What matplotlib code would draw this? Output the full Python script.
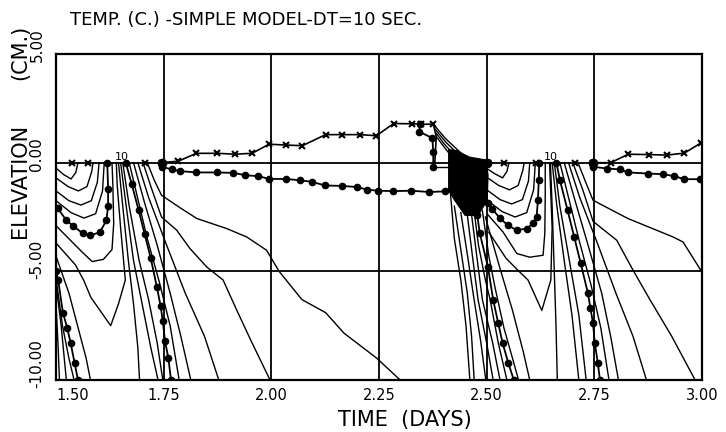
import matplotlib
matplotlib.use("Agg")
import matplotlib.pyplot as plt
import matplotlib.transforms as mtrans

plt.rcParams['font.family'] = ['Liberation Sans Narrow', 'DejaVu Sans']

################################################################################
# Data: isotherms, (time in days, elevation in cm)
################################################################################
X_TICKS = [1.50, 1.75, 2.00, 2.25, 2.50, 2.75, 3.00]
X_LABELS = ['1.50', '1.75', '2.00', '2.25', '2.50', '2.75', '3.00']
Y_TICKS = [5.0, 0.0, -5.0, -10.0]
Y_LABELS = ['5.00', '0.00', '-5.00', '-10.00']

# surface line with x markers (above zero)
x_line = [(1.746, 0.0), (1.784, 0.07), (1.826, 0.43), (1.875, 0.43), (1.916, 0.39),
          (1.955, 0.43), (1.995, 0.85), (2.034, 0.81), (2.072, 0.78), (2.126, 1.29),
          (2.165, 1.29), (2.205, 1.29), (2.244, 1.24), (2.284, 1.80), (2.326, 1.79),
          (2.347, 1.77), (2.376, 1.77)]
x_drop = [(2.376, 1.77), (2.383, 1.2), (2.381, 0.5), (2.379, -0.2)]
x_line_r = [(2.747, 0.0), (2.788, 0.0), (2.829, 0.39), (2.878, 0.37), (2.919, 0.35),
            (2.959, 0.44), (2.997, 0.9)]
x_surf = [1.537, 1.574, 1.707, 2.503, 2.540, 2.615, 2.706]

# dotted line just below surface
d_line = [(1.746, -0.19), (1.769, -0.31), (1.788, -0.39), (1.826, -0.45), (1.875, -0.45),
          (1.912, -0.47), (1.940, -0.58), (1.970, -0.62), (1.995, -0.75), (2.034, -0.75),
          (2.066, -0.81), (2.094, -0.88), (2.125, -1.05), (2.164, -1.07), (2.199, -1.12),
          (2.222, -1.24), (2.248, -1.29), (2.283, -1.31), (2.324, -1.29), (2.367, -1.35),
          (2.404, -1.32)]
d_loop = [(2.345, 1.77), (2.344, 1.42), (2.374, 1.13), (2.376, 0.5), (2.376, -0.2)]
d_line_r = [(2.747, -0.19), (2.780, -0.27), (2.809, -0.31), (2.829, -0.45), (2.874, -0.50),
            (2.909, -0.53), (2.936, -0.62), (2.959, -0.76), (2.995, -0.76)]
surf_dots = [1.746, 2.500, 2.747]
flat_seg = [(2.375, -0.2), (2.415, -0.2)]

# first day cycle
u1 = [(1.500, -0.25), (1.518, -0.55), (1.535, -0.75), (1.546, -0.45), (1.551, 0.0)]
u2 = [(1.500, -0.70), (1.528, -1.10), (1.552, -1.30), (1.572, -1.10), (1.583, -0.40), (1.586, 0.0)]
u3 = [(1.500, -1.30), (1.530, -1.75), (1.558, -1.95), (1.582, -1.75), (1.596, -0.90), (1.600, 0.0)]
u4 = [(1.500, -1.75), (1.535, -2.30), (1.565, -2.55), (1.592, -2.35), (1.608, -1.30), (1.612, 0.0)]
u_dot = [(1.504, -2.10), (1.524, -2.65), (1.539, -2.90), (1.562, -3.25), (1.579, -3.35),
         (1.602, -3.20), (1.617, -2.65), (1.621, -2.00), (1.621, -1.20), (1.619, 0.0)]
u5 = [(1.500, -2.90), (1.530, -3.50), (1.560, -4.10), (1.584, -4.55), (1.610, -4.45),
      (1.630, -4.00), (1.634, -2.80), (1.632, -1.00), (1.630, 0.0)]
v6 = [(1.500, -3.70), (1.545, -4.70), (1.564, -5.40), (1.581, -6.20), (1.627, -7.50),
      (1.645, -6.5), (1.661, -5.40), (1.650, -3.0), (1.642, -1.0), (1.640, 0.0)]
a1 = [(1.500, -6.5), (1.505, -8.5), (1.508, -10.0)]
a2 = [(1.500, -5.6), (1.512, -7.5), (1.524, -10.0)]
a3 = [(1.500, -5.3), (1.515, -7.5), (1.530, -9.0), (1.542, -10.0)]
a_dot = [(1.500, -5.0), (1.505, -5.4), (1.516, -6.9), (1.526, -7.6), (1.534, -8.3),
         (1.543, -9.2), (1.551, -10.0)]
a4 = [(1.500, -4.3), (1.530, -6.0), (1.550, -7.5), (1.570, -9.0), (1.580, -10.0)]
f1 = [(1.645, 0.0), (1.655, -2.0), (1.668, -4.5), (1.680, -6.5), (1.690, -8.5), (1.694, -10.0)]
f2 = [(1.650, 0.0), (1.663, -2.0), (1.680, -4.5), (1.700, -6.5), (1.720, -8.5), (1.737, -10.0)]
f3 = [(1.655, 0.0), (1.670, -2.0), (1.693, -4.5), (1.715, -6.3), (1.735, -8.3), (1.748, -10.0)]
f_dot = [(1.662, 0.0), (1.676, -1.0), (1.692, -2.2), (1.706, -3.3), (1.720, -4.4), (1.734, -5.7),
         (1.743, -6.6), (1.748, -7.3), (1.753, -8.2), (1.761, -9.0), (1.767, -10.0)]
f4 = [(1.670, 0.0), (1.688, -1.5), (1.712, -3.5), (1.740, -5.5), (1.765, -7.5), (1.786, -10.0)]
f5 = [(1.680, 0.0), (1.705, -1.8), (1.735, -3.8), (1.765, -6.0), (1.790, -8.0), (1.813, -10.0)]
f6 = [(1.690, 0.0), (1.715, -1.6), (1.755, -3.7), (1.800, -6.0), (1.845, -8.0), (1.878, -10.0)]
l2 = [(1.702, 0.0), (1.722, -1.2), (1.745, -2.5), (1.780, -3.10), (1.811, -3.95), (1.850, -4.8),
      (1.888, -5.4), (1.920, -6.8), (1.953, -8.2), (1.997, -10.0)]
l1 = [(1.712, 0.0), (1.728, -0.8), (1.745, -1.50), (1.790, -2.10), (1.827, -2.57), (1.896, -3.03),
      (1.943, -3.42), (1.989, -4.03), (2.018, -5.0), (2.071, -6.3), (2.126, -6.9), (2.169, -7.85),
      (2.212, -8.5), (2.245, -9.0), (2.299, -10.0)]

# freezing front mass just before 2.50, and the lines running into it
dense = [(2.412, 0.60), (2.430, 0.55), (2.460, 0.25), (2.498, 0.12), (2.503, -0.58),
         (2.501, -1.73), (2.480, -2.42), (2.450, -2.42), (2.426, -1.73), (2.412, -1.27)]
diag1 = [(2.376, 1.77), (2.405, 1.10), (2.440, 0.45)]
diag2 = [(2.380, 1.55), (2.405, 0.95), (2.428, 0.50)]
diag3 = [(2.383, 1.35), (2.402, 0.85), (2.418, 0.50)]
diag4 = [(2.385, 1.15), (2.400, 0.75), (2.412, 0.45)]
dn0 = [(2.415, -1.2), (2.425, -3.5), (2.440, -5.4), (2.452, -7.5), (2.461, -10.0)]
dn1 = [(2.425, -2.0), (2.440, -4.0), (2.455, -6.0), (2.465, -8.0), (2.471, -10.0)]
dn2 = [(2.440, -2.3), (2.455, -4.2), (2.470, -6.2), (2.486, -8.2), (2.498, -10.0)]
dn3 = [(2.455, -2.4), (2.467, -4.3), (2.480, -6.3), (2.500, -8.3), (2.515, -10.0)]
dn4 = [(2.465, -2.4), (2.477, -4.3), (2.490, -6.3), (2.514, -8.3), (2.531, -10.0)]
dn5 = [(2.472, -2.4), (2.481, -3.8), (2.497, -5.4), (2.508, -6.3), (2.527, -8.3), (2.547, -10.0)]
dn_dot = [(2.478, -2.4), (2.484, -3.25), (2.503, -4.8), (2.515, -6.3), (2.527, -7.4),
          (2.537, -8.3), (2.550, -9.2), (2.563, -10.0)]
dn6 = [(2.490, -2.2), (2.505, -4.3), (2.520, -5.8), (2.540, -7.6), (2.560, -9.0), (2.574, -10.0)]
dn7 = [(2.497, -2.5), (2.530, -4.8), (2.560, -6.8), (2.585, -8.7), (2.600, -10.0)]

# second day cycle
ru1 = [(2.495, -0.20), (2.518, -0.50), (2.537, -0.70), (2.547, -0.40), (2.552, 0.0)]
ru2 = [(2.495, -0.60), (2.528, -1.05), (2.553, -1.25), (2.573, -1.05), (2.584, -0.35), (2.587, 0.0)]
ru3 = [(2.497, -1.20), (2.531, -1.70), (2.558, -1.90), (2.583, -1.70), (2.597, -0.85), (2.600, 0.0)]
ru4 = [(2.499, -1.70), (2.536, -2.25), (2.566, -2.50), (2.593, -2.30), (2.609, -1.25), (2.613, 0.0)]
ru_dot = [(2.503, -1.85), (2.512, -2.11), (2.531, -2.56), (2.549, -2.88), (2.570, -3.11),
          (2.593, -3.03), (2.608, -2.79), (2.616, -2.50), (2.619, -1.73), (2.621, -0.8), (2.622, 0.0)]
ru5 = [(2.503, -2.4), (2.538, -3.19), (2.570, -4.18), (2.600, -4.35), (2.631, -4.26),
       (2.635, -3.25), (2.636, -1.5), (2.636, 0.0)]
rv6 = [(2.505, -3.2), (2.545, -4.4), (2.575, -5.0), (2.596, -5.4), (2.628, -6.8), (2.649, -5.4),
       (2.652, -3.0), (2.648, -1.0), (2.646, 0.0)]
rf1 = [(2.648, 0.0), (2.652, -2.0), (2.657, -5.0), (2.661, -7.5), (2.664, -10.0)]
rf2 = [(2.652, 0.0), (2.663, -2.0), (2.680, -4.5), (2.698, -7.0), (2.714, -10.0)]
rf3 = [(2.657, 0.0), (2.670, -2.0), (2.692, -4.5), (2.714, -7.0), (2.731, -10.0)]
rf_dot = [(2.662, 0.0), (2.670, -0.8), (2.688, -2.2), (2.703, -3.4), (2.718, -4.6), (2.735, -6.0),
          (2.741, -6.7), (2.747, -7.4), (2.751, -8.3), (2.758, -9.2), (2.763, -10.0)]
rf4 = [(2.670, 0.0), (2.690, -1.6), (2.715, -3.6), (2.742, -5.6), (2.765, -7.6), (2.784, -10.0)]
rf5 = [(2.680, 0.0), (2.706, -1.8), (2.737, -3.9), (2.767, -6.0), (2.788, -8.0), (2.806, -10.0)]
rf6 = [(2.690, 0.0), (2.716, -1.6), (2.757, -3.7), (2.800, -6.0), (2.840, -8.0), (2.871, -10.0)]
rl2 = [(2.700, 0.0), (2.724, -1.3), (2.747, -2.70), (2.802, -3.57), (2.840, -4.95), (2.879, -6.3),
       (2.930, -8.0), (2.984, -10.0)]
rl1 = [(2.712, 0.0), (2.730, -0.9), (2.747, -1.73), (2.828, -2.57), (2.933, -3.42), (2.956, -3.65),
       (2.995, -4.88), (3.000, -5.0)]

plain_lines = [u1, u2, u3, u4, u5, v6, a1, a2, a3, a4, f1, f2, f3, f4, f5, f6, l1, l2,
               diag1, diag2, diag3, diag4,
               dn0, dn1, dn2, dn3, dn4, dn5, dn6, dn7,
               ru1, ru2, ru3, ru4, ru5, rv6, rf1, rf2, rf3, rf4, rf5, rf6, rl1, rl2, flat_seg]
dot_lines = [d_line, d_loop, d_line_r, u_dot, a_dot, f_dot, dn_dot, ru_dot, rf_dot]
x_lines = [x_line, x_line_r]

################################################################################
# Figure
################################################################################
fig = plt.figure(figsize=(7.26, 4.32), dpi=100)
ax = fig.add_axes([56/726, 1-380/432, 646/726, 326/432])
ax.set_xlim(1.5, 3.0)
ax.set_ylim(-10.0, 5.0)

for xv in X_TICKS[1:-1]:
    ax.axvline(xv, color='black', lw=1.3, zorder=1)
for yv in [0.0, -5.0]:
    ax.axhline(yv, color='black', lw=1.3, zorder=1)

for ln in plain_lines:
    t, z = zip(*ln)
    ax.plot(t, z, color='black', lw=1.0, zorder=2)
for ln in dot_lines:
    t, z = zip(*ln)
    ax.plot(t, z, color='black', lw=1.3, marker='o', ms=4.5, zorder=3)
for ln in x_lines:
    t, z = zip(*ln)
    ax.plot(t, z, color='black', lw=1.2, marker='x', ms=4, mew=1.5, zorder=3)
t, z = zip(*x_drop)
ax.plot(t, z, color='black', lw=1.2, zorder=3)
ax.plot(x_surf, [0.0]*len(x_surf), ls='none', color='black', marker='x', ms=4, mew=1.5, zorder=3)
ax.plot(surf_dots, [0.0]*len(surf_dots), ls='none', color='black', marker='o', ms=6, zorder=3)

t, z = zip(*dense)
ax.fill(t, z, color='black', lw=1.0, zorder=3)

ax.text(1.654, 0.05, '10', fontsize=8, ha='center', va='bottom')
ax.text(2.650, 0.05, '10', fontsize=8, ha='center', va='bottom')

for sp in ax.spines.values():
    sp.set_linewidth(1.6)
ax.set_xticks(X_TICKS)
ax.set_xticklabels([])
ax.set_yticks(Y_TICKS)
ax.set_yticklabels([])
ax.tick_params(length=0)

# plotter style tick labels
xoff = mtrans.ScaledTranslation(0, -8/100, fig.dpi_scale_trans)
for xv, lab in zip(X_TICKS, X_LABELS):
    ha = 'left' if xv == X_TICKS[0] else 'center'
    ax.text(xv, 0, lab, transform=ax.get_xaxis_transform() + xoff,
            ha=ha, va='top', fontsize=10.5)
yoff = mtrans.ScaledTranslation(0, -8/100, fig.dpi_scale_trans)
for yv, lab in zip(Y_TICKS, Y_LABELS):
    ax.text(-19/646, yv, lab, transform=ax.get_yaxis_transform() + yoff, rotation=90,
            ha='center', va='bottom', fontsize=11)

fig.text(405/726, 1-420/432, 'TIME  (DAYS)', ha='center', va='center', fontsize=15)
fig.text(20/726, 1-181/432, 'ELEVATION', rotation=90, ha='center', va='center', fontsize=15)
fig.text(20/726, 1-52/432, '(CM.)', rotation=90, ha='center', va='center', fontsize=15)
fig.text(70/726, 1-20/432, 'TEMP. (C.) -SIMPLE MODEL-DT=10 SEC.', ha='left', va='center',
         fontsize=13)

fig.savefig('out.png', dpi=100)
